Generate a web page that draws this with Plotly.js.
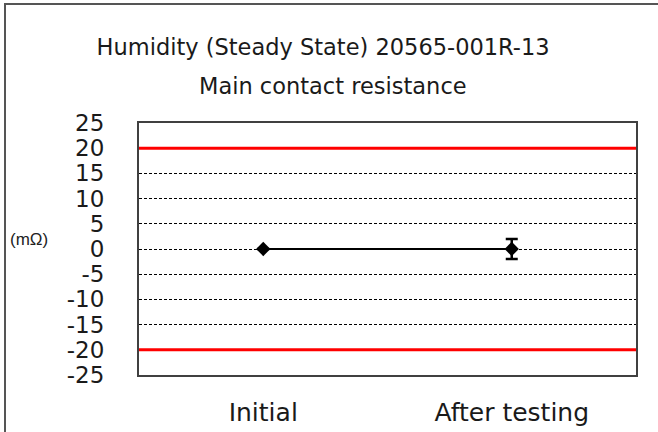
<!DOCTYPE html>
<html>
<head>
<meta charset="utf-8">
<script src="https://cdn.plot.ly/plotly-3.0.1.min.js"></script>
<style>
  html, body { margin: 0; padding: 0; background: #fff; }
  #wrap { position: relative; width: 658px; height: 432px; overflow: hidden; }
  #chart { position: absolute; left: 0; top: 0; width: 658px; height: 432px; }
  #frame { position: absolute; left: 4px; top: 3px; width: 660px; height: 427px;
           border-left: 2px solid #555; border-top: 2px solid #555; border-bottom: 1px solid #ccc;
           pointer-events: none; }
</style>
</head>
<body>
<div id="wrap">
  <div id="chart"></div>
  <div id="frame"></div>
</div>
<script>
// ---- data ----
const titleLine1 = "Humidity (Steady State) 20565-001R-13";
const titleLine2 = "Main contact resistance";
const unitLabel = "(mΩ)";
const categories = ["Initial", "After testing"];
const meanValues = [0, 0];
const errorValues = [0, 2];
const upperLimit = 20;
const lowerLimit = -20;
const yTickValues = [25, 20, 15, 10, 5, 0, -5, -10, -15, -20, -25];

const font = "DejaVu Sans, Verdana, sans-serif";

const trace = {
  x: categories,
  y: meanValues,
  type: "scatter",
  mode: "lines+markers",
  line: { color: "#000", width: 2 },
  marker: { symbol: "diamond", size: 11, color: "#000" },
  error_y: { type: "data", array: errorValues, visible: true, color: "#000", thickness: 2.5, width: 6 },
  hoverinfo: "skip",
  showlegend: false
};

const layout = {
  width: 658,
  height: 432,
  margin: { l: 139, r: 22, t: 123, b: 57 },
  paper_bgcolor: "#fff",
  plot_bgcolor: "#fff",
  font: { family: font, color: "#1a1a1a", size: 20 },
  title: {
    text: titleLine1,
    font: { family: font, size: 22.5, color: "#1a1a1a" },
    x: 0.491, xanchor: "center",
    y: 1 - 47 / 432, yanchor: "middle", yref: "container"
  },
  xaxis: {
    type: "category",
    range: [-0.5, 1.5],
    showgrid: false,
    zeroline: false,
    showline: true, mirror: true, linecolor: "#404040", linewidth: 2,
    ticks: "", ticklabelstandoff: 14,
    tickfont: { family: font, size: 25, color: "#1a1a1a" }
  },
  yaxis: {
    range: [-25, 25],
    tickvals: yTickValues,
    ticktext: yTickValues.map(String),
    showgrid: true, gridcolor: "#000", gridwidth: 1, griddash: "3px,2px",
    zeroline: false,
    showline: true, mirror: true, linecolor: "#404040", linewidth: 2,
    ticks: "", ticklabelstandoff: 28,
    tickfont: { family: font, size: 23, color: "#1a1a1a" }
  },
  shapes: [
    { type: "line", xref: "paper", x0: 0, x1: 1, yref: "y", y0: upperLimit, y1: upperLimit,
      line: { color: "#ff0000", width: 3 } },
    { type: "line", xref: "paper", x0: 0, x1: 1, yref: "y", y0: lowerLimit, y1: lowerLimit,
      line: { color: "#ff0000", width: 3 } }
  ],
  annotations: [
    { text: titleLine2, xref: "paper", yref: "paper",
      x: (333 - 139) / 497, y: 1 + (123 - 86) / 252, xanchor: "center", yanchor: "middle",
      showarrow: false, font: { family: font, size: 22.5, color: "#1a1a1a" } },
    { text: unitLabel, xref: "paper", yref: "y",
      x: (29 - 139) / 497, y: 1.8, xanchor: "center", yanchor: "middle",
      showarrow: false, font: { family: "Liberation Sans, Arial, sans-serif", size: 17, color: "#222" } }
  ]
};

Plotly.newPlot("chart", [trace], layout, { displayModeBar: false, staticPlot: true });
</script>
</body>
</html>
